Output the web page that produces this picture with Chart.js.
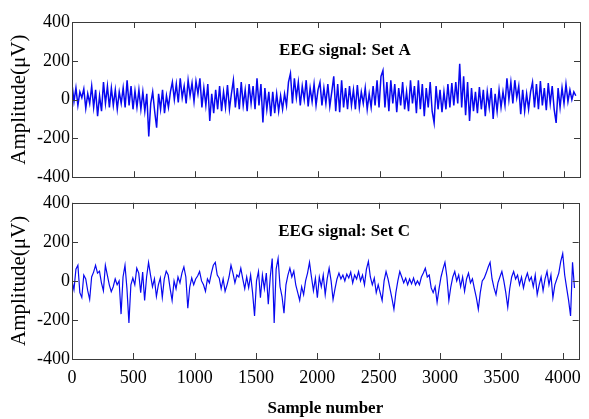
<!DOCTYPE html>
<html>
<head>
<meta charset="utf-8">
<script src="https://cdn.jsdelivr.net/npm/chart.js@4.4.0/dist/chart.umd.min.js"></script>
<style>
  html, body { margin: 0; padding: 0; background: #fff; }
  #wrap { position: relative; width: 589px; height: 419px; background: #fff; }
  #chartA { position: absolute; left: 0; top: 0; }
  #chartC { position: absolute; left: 0; top: 190px; }
</style>
</head>
<body>
<div id="wrap">
  <canvas id="chartA" width="589" height="190"></canvas>
  <canvas id="chartC" width="589" height="229"></canvas>
</div>
<script>
// one value every 16 samples
const sampleStep = 16;
const xTicks = [0, 500, 1000, 1500, 2000, 2500, 3000, 3500, 4000];
const yTicks = [-400, -200, 0, 200, 400];
const titleA = 'EEG signal: Set A';
const titleC = 'EEG signal: Set C';
const yLabel = 'Amplitude(μV)';
const xLabel = 'Sample number';

const setA = [
  80, -10, 60, -30, 40, 10, 55, -45, 30, -20,
  70, -40, 50, -85, 20, -60, 90, -20, 70, -40, 60,
  -30, 50, -50, 40, -20, 60, -40, 100, -30, 70, -50, 45,
  -40, 50, -50, 40, -60, 30, -190,
  -20, 40, -60, -145, 30, -50, 50, -70, 20, -40,
  40, 90, 0, 80, -15, 110, 10, 70, -20, 100, 20, 85, -10, 95, 30,
  110, -40, 60, -30, 80, -110, 30, -70, 50, -50,
  70, -60, 40, -40, 75, -50, 30,
  100, -40, 60, -50, 90, -30, 50, -60, 80, -20, 70, -50,
  110, -30, 80, -118, 60, -50, 40, -85, 40, -70, 30, -60,
  20, -50, 30, -30, 90, 135,
  -20, 110, 10, 90, -30, 70, 0, 100, -35, 60, -10, 80, -30, 50,
  90, -30, 60, -20, 80, -35, 40, 120, -60, 80, -65, 100, -40, 60,
  -50, 70, -30, 50, -50, 75, -40, 40, -20, 60, -50, 30, -40, 70, -30, 100,
  -40, 120, 150, -40, 90,
  -60, 100, -20, 80, -65, 60, -30, 90, -50, 40, -60, 100, -20, 70,
  -70, 100, -50, 80, -85, 60, -40, 90, -60, -120, 70, -50,
  50, -65, 40, -50, 80, -40, 85, -30, 90, -20, 185,
  -40, 120, -80, 90, -110, 60, -60, 40, -70, 65, -50, 50, -85, 40, -40, 60,
  -100, 30, -60, 50, -40, 40, -30, 110, 0, 90, -20, 100, 10, 70,
  -75, 50, -60, 30, -50, 40,
  90, -40, 80, -50, 95, -30, 60, -55, 85, -20, 70, -50, -120, 60, -40,
  60, -20, 80, -10, 50, 0, 40, 20
];

const setC = [
  0, -45, 60, 80, -60, -85, 30, 10, -50, -95,
  20, 45, 80, 40, 50, -10, -50, 80, 30, -20,
  -55, -30, 10, -20, 0, -170, 20, 80, -40, -215,
  -20, 15, -20, 65, 40, -60, 45, -100, 20, 95,
  30, -30, 10, -80, -20, 15, -85, 10, 50, 30,
  -40, -100, 0, -40, 20, -10, 40, 72, 20, -140,
  -30, 15, -20,
  10, 25, 48, 0, -20, -53, 10, -10, 40, 80, 95, 30, 14, -40, 10, -53,
  -20, 20, 80, 40, -10, 30, 20, 65, 10, -40, 20, -35, 30, -60, -180, 0,
  48, -86, 30, -40, 40, -120, 20, 115, -215, 60, 115, -30, -80, -165, -20, 30,
  65, 20, 50, -20, -60, -100, -30, -70, 0, 40, 95, 20, -50, 14, -86,
  20, -30, 30, -70, 10, 65, 0, -95, -40, 10, 40, 10, 30, 0, 35, 15,
  45, -10, 30, 10, 48, 0, 30, -20, 60, 100, 20, -20, 14, -60, -20, -60,
  -100, 0, 48, 10, -40, -90, -145, -60, 0, 48, 20, -10, 14, -20, 10, -15,
  15, -20, 0, -20, 20, 40, 65, 20, 30, -36, -60, -30, -110, -40, 20, 60, 95,
  20, -100, -30, 20, 48, 0, 30, -30, 20, -53, 10, 40, -10, 10, -40, -86,
  -145, -60, 0, 14, 40, 70, 95, 10, -36, -70, -10, 20, 48, 0, -60, -135,
  -40, 20, 48, 10, 30, -20, 20, -36, 10, 40, 0, 20, -30, 30, -70, -20,
  20, -50, 10, 48, -20, 30, -86, -20, 10, 40, 100, 140, 30, -36, -100, -180,
  95, -36
];

const serif = '"Liberation Serif", "Times New Roman", serif';

// MATLAB-like box with inward ticks and the panel title inside
const framePlugin = {
  id: 'frame',
  afterDraw(chart) {
    const { ctx, chartArea: a, scales } = chart;
    ctx.save();
    ctx.strokeStyle = '#3a3a3a';
    ctx.lineWidth = 1;
    ctx.strokeRect(Math.round(a.left) + 0.5, Math.round(a.top) + 0.5,
      Math.round(a.right - a.left), Math.round(a.bottom - a.top));
    ctx.beginPath();
    xTicks.forEach(v => {
      const px = Math.round(scales.x.getPixelForValue(v)) + 0.5;
      ctx.moveTo(px, a.bottom); ctx.lineTo(px, a.bottom - 6);
      ctx.moveTo(px, a.top); ctx.lineTo(px, a.top + 6);
    });
    yTicks.forEach(v => {
      const py = Math.round(scales.y.getPixelForValue(v)) + 0.5;
      ctx.moveTo(a.left, py); ctx.lineTo(a.left + 6, py);
      ctx.moveTo(a.right, py); ctx.lineTo(a.right - 6, py);
    });
    ctx.stroke();
    const t = chart.options.plugins.frame.title;
    ctx.font = 'bold 17px ' + serif;
    ctx.fillStyle = '#000';
    ctx.textAlign = 'center';
    ctx.textBaseline = 'alphabetic';
    ctx.fillText(t, a.left + (a.right - a.left) * 0.537, a.top + 33);
    ctx.restore();
  }
};

function makePanel(canvasId, values, title, showX, padding, xHeight, lineWidth) {
  const ctx = document.getElementById(canvasId).getContext('2d');
  return new Chart(ctx, {
    type: 'line',
    data: {
      datasets: [{
        data: values.map((v, i) => ({ x: i * sampleStep, y: v })),
        borderColor: '#0808f0',
        borderWidth: lineWidth,
        pointRadius: 0,
        tension: 0,
        fill: false
      }]
    },
    options: {
      responsive: false,
      animation: false,
      layout: { padding: padding },
      plugins: {
        legend: { display: false },
        tooltip: { enabled: false },
        frame: { title: title }
      },
      scales: {
        x: {
          type: 'linear',
          min: 0,
          max: 4130,
          display: showX,
          grid: { display: false, drawTicks: false },
          border: { display: false },
          afterBuildTicks: s => { s.ticks = xTicks.map(v => ({ value: v })); },
          afterFit: s => { s.height = xHeight; },
          ticks: {
            padding: 8,
            color: '#000',
            font: { family: serif, size: 18 },
            maxRotation: 0,
            callback: v => String(v)
          },
          title: {
            display: true,
            text: xLabel,
            color: '#000',
            font: { family: serif, size: 17, weight: 'bold' },
            padding: { top: 0, bottom: 0 }
          }
        },
        y: {
          min: -400,
          max: 400,
          grid: { display: false, drawTicks: false },
          border: { display: false },
          afterBuildTicks: s => { s.ticks = yTicks.map(v => ({ value: v })); },
          afterFit: s => { s.width = 72; },
          ticks: { padding: 2, color: '#000', font: { family: serif, size: 18 }, callback: v => String(v) },
          title: {
            display: true,
            text: yLabel,
            color: '#000',
            font: { family: serif, size: 21 },
            padding: { top: 7, bottom: 0 }
          }
        }
      }
    },
    plugins: [framePlugin]
  });
}

makePanel('chartA', setA, titleA, false, { top: 22, right: 9, bottom: 11, left: 0 }, 0, 1.5);
makePanel('chartC', setC, titleC, true, { top: 10, right: 9, bottom: 0, left: 0 }, 60, 1.2);
</script>
</body>
</html>
